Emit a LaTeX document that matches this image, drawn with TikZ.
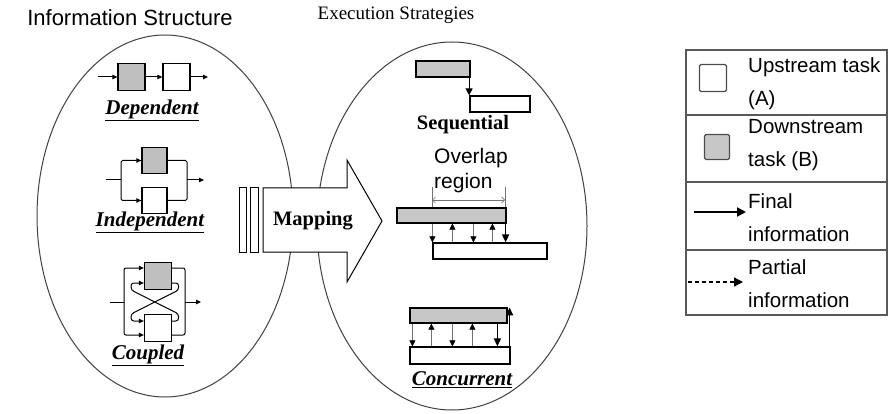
\documentclass[tikz,border=0pt]{standalone}
\usepackage{fontspec}
\setmainfont{Liberation Serif}
\newfontfamily\arial{Liberation Sans}
\usetikzlibrary{arrows.meta}
\begin{document}
\begin{tikzpicture}[x=1pt,y=-1pt,
  ell/.style={draw=black!75, line width=1pt},
  box/.style={draw, line width=1.3pt, minimum width=27pt, minimum height=27pt, inner sep=0pt},
  gbox/.style={box, fill=black!25},
  bar/.style={draw, line width=1.2pt, inner sep=0pt},
  gbar/.style={bar, fill=black!22},
  conn/.style={line width=1pt, -{Triangle[length=5pt,width=4.5pt]}},
  plain/.style={line width=1pt},
  part/.style={line width=0.5pt, black!55, -{Triangle[length=6pt,width=6pt,fill=black,color=black]}},
  fin/.style={line width=1.6pt, -{Triangle[length=8pt,width=7pt]}},
  lbl/.style={font=\fontsize{21}{23}\selectfont\bfseries\itshape},
  blbl/.style={font=\fontsize{20.5}{23}\selectfont\bfseries},
  ttl/.style={font=\fontsize{19}{22}\selectfont},
  leg/.style={font=\arial\fontsize{20.5}{33}\selectfont, align=left, anchor=west, inner sep=0pt},
  sep/.style={draw=black!65, line width=1.2pt}
]
\useasboundingbox (0,0) rectangle (894,414);

% titles
\node[font=\arial\fontsize{22}{24}\selectfont] (t1) at (130,18) {Information Structure};
\node[ttl] (t2) at (396,15) {Execution Strategies};

% ellipses
\draw[ell] (165,216) ellipse [x radius=128pt, y radius=181pt];
\draw[ell] (452,226) ellipse [x radius=135pt, y radius=184pt];

% ---- Dependent
\coordinate (din) at (98,77);
\node[gbox] (dg) at (131.5,77) {};
\node[box] (dw) at (176.5,77) {};
\coordinate (dout) at (208,77);
\draw[conn] (din) -- (dg);
\draw[conn] (dg) -- (dw);
\draw[conn] (dw) -- (dout);
\node[lbl] (dl) at (152,110) {\underline{Dependent}};

% ---- Independent
\coordinate (iin) at (106,180);
\coordinate (ijl) at (121,180);
\coordinate (ijr) at (187,180);
\coordinate (iout) at (204,180);
\node[gbox, minimum width=25pt, minimum height=26pt] (ig) at (154.5,160.5) {};
\node[box, minimum width=25pt, minimum height=26pt] (iw) at (154.5,200.5) {};
\draw[plain] (iin) -- (ijl);
\draw[conn, rounded corners=1.5pt] (ijl) |- (ig.west);
\draw[conn, rounded corners=1.5pt] (ijl) |- (iw.west);
\draw[plain, rounded corners=1.5pt] (ig.east) -| (ijr) |- (iw.east);
\draw[conn] (ijr) -- (iout);
\node[lbl] (il) at (150,222) {\underline{Independent}};

% ---- Coupled
\node[gbox] (cg) at (158,276) {};
\node[box] (cw) at (158,328) {};
\coordinate (cin) at (110,302);
\coordinate (cjl) at (124,302);
\coordinate (cjr) at (185,302);
\coordinate (cout) at (201,302);
\draw[plain] (cin) -- (cjl);
\draw[conn, rounded corners=2pt] (cjl) |- ([yshift=8pt]cg.west);
\draw[conn, rounded corners=2pt] (cjl) |- ([yshift=-7pt]cw.west);
\draw[plain, rounded corners=2pt] ([yshift=8pt]cg.east) -| (cjr) |- ([yshift=-7pt]cw.east);
\draw[conn] (cjr) -- (cout);
\draw[conn, rounded corners=3pt] ([yshift=-7pt]cg.east) -- ++(6.5,0) -- ++(0,7) -- (131,314) -- (131,321) -- ([yshift=7pt]cw.west);
\draw[conn, rounded corners=3pt] ([yshift=7pt]cw.east) -- ++(6.5,0) -- ++(0,-7) -- (131,290) -- (131,283) -- ([yshift=-7pt]cg.west);
\node[lbl] (cl) at (148,355) {\underline{Coupled}};

% ---- Mapping arrow
\draw[line width=1pt, fill=white] (263,188) -- (347,188) -- (347,160) -- (382,221) -- (347,282) -- (347,252) -- (263,252) -- cycle;
\draw[line width=1pt, fill=white] (239,188) rectangle (246,252);
\draw[line width=1pt, fill=white] (250,188) rectangle (258,252);
\node[blbl] (map) at (313,221) {Mapping};

% ---- Sequential
\node[gbar, minimum width=54pt, minimum height=16pt] (s1) at (443,69) {};
\node[bar, minimum width=60pt, minimum height=16pt] (s2) at (500,104) {};
\draw[line width=1pt, -{Triangle[length=7pt,width=7pt]}] ([xshift=-1.5pt]s1.south east) -- ([xshift=-1.5pt]s1.south east |- s2.north);
\node[blbl] (sl) at (463,125) {Sequential};

% ---- Overlapping
\node[leg, font=\arial\fontsize{21}{25}\selectfont] (ovl) at (434,171) {Overlap\\region};
\node[gbar, minimum width=109pt, minimum height=15pt] (o1) at (451.5,215.5) {};
\node[bar, minimum width=114pt, minimum height=16pt] (o2) at (490,251) {};
\coordinate (k1) at (432,187);
\coordinate (k2) at (505,187);
\coordinate (m1) at (432,200);
\coordinate (m2) at (505,200);
\draw[black!55, line width=0.6pt] (k1) -- (k1 |- o1.north);
\draw[black!55, line width=0.6pt] (k2) -- (k2 |- o1.north);
\draw[black!55, line width=0.6pt, {Straight Barb[length=3pt]}-{Straight Barb[length=3pt]}] (m1) -- (m2);
\draw[part] ([xshift=36pt]o1.south west) -- ([xshift=36pt]o1.south west |- o2.north);
\draw[part] ([xshift=56pt]o1.south west |- o2.north) -- ([xshift=56pt]o1.south west);
\draw[part] ([xshift=77pt]o1.south west) -- ([xshift=77pt]o1.south west |- o2.north);
\draw[part] ([xshift=96pt]o1.south west |- o2.north) -- ([xshift=96pt]o1.south west);
\draw[fin] ([xshift=-1pt]o1.north east) -- ([xshift=-1pt]o1.north east |- o2.north);

% ---- Concurrent
\node[gbar, minimum width=97pt, minimum height=15pt] (c1) at (458.5,315.5) {};
\node[bar, minimum width=100pt, minimum height=17pt] (c2) at (460,355.5) {};
\draw[part] ([xshift=3pt]c1.south west) -- ([xshift=3pt]c1.south west |- c2.north);
\draw[part] ([xshift=22pt]c1.south west |- c2.north) -- ([xshift=22pt]c1.south west);
\draw[part] ([xshift=43pt]c1.south west) -- ([xshift=43pt]c1.south west |- c2.north);
\draw[part] ([xshift=63pt]c1.south west |- c2.north) -- ([xshift=63pt]c1.south west);
\draw[fin] ([xshift=88pt]c1.south west) -- ([xshift=88pt]c1.south west |- c2.north);
\draw[fin] ([xshift=-1pt]c2.south east) -- ([xshift=-1pt]c2.south east |- c1.north);
\node[lbl] (ccl) at (462,380) {\underline{Concurrent}};

% ---- Legend
\draw[sep] (686,50) rectangle (887,315);
\draw[sep] (686,115) -- (887,115);
\draw[sep] (686,182) -- (887,182);
\draw[sep] (686,250) -- (887,250);
\node[draw=black!70, line width=1.2pt, rounded corners=1.5pt, minimum size=27pt, inner sep=0pt] (lw) at (713,78) {};
\node[draw=black!70, line width=1.2pt, fill=black!22, rounded corners=1.5pt, minimum size=25pt, inner sep=0pt] (lg) at (717,147) {};
\node[leg] (lt1) at (748,83.5) {Upstream task\\(A)};
\node[leg] (lt2) at (748,145) {Downstream\\task (B)};
\node[leg] (lt3) at (748,217.5) {Final\\information};
\node[leg] (lt4) at (748,283.5) {Partial\\information};
\coordinate (fa) at (694,212);
\coordinate (fb) at (746,212);
\coordinate (pa) at (688,282);
\coordinate (pb) at (743,282);
\draw[line width=2pt, -{Triangle[length=9pt,width=9pt]}] (fa) -- (fb);
\draw[line width=1.3pt, dash pattern=on 4pt off 3pt, -{Triangle[length=9pt,width=9pt]}] (pa) -- (pb);
\end{tikzpicture}
\end{document}
